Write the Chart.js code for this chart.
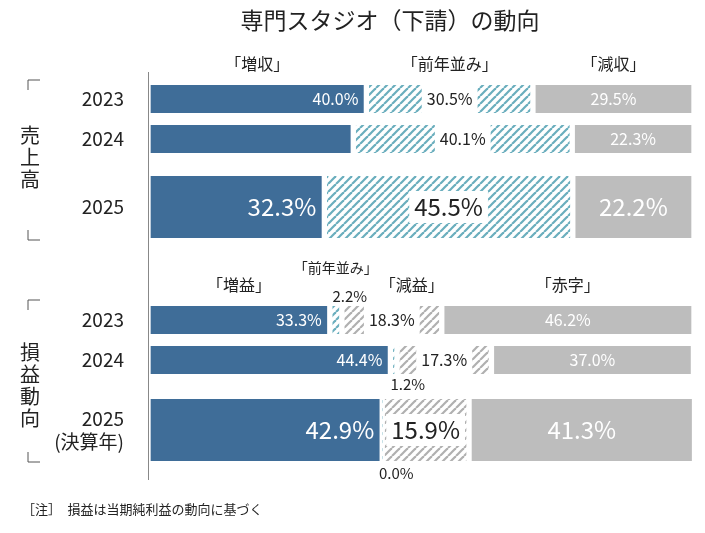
<!DOCTYPE html>
<html><head><meta charset="utf-8">
<script src="https://cdn.jsdelivr.net/npm/chart.js@4"></script>
<style>body{margin:0;background:#fff}#wrap{width:705px;height:533px}</style>
</head><body><div id="wrap"><canvas id="c"></canvas></div>
<script>
const rowLabels = ['2023', '2024', '2025', '2023', '2024', ['2025', '(決算年)']];
const rowPos = [0, 1, 2.7, 5.525, 6.525, 8.275];
const bigRows = [2, 5];

// 売上高 (rows 0-2)
const salesUp = [40.0, 37.6, 32.3];
const salesFlat = [30.5, 40.1, 45.5];
const salesDown = [29.5, 22.3, 22.2];
// 損益動向 (rows 3-5)
const profitUp = [33.3, 44.4, 42.9];
const profitFlat = [2.2, 1.2, 0.0];
const profitDown = [18.3, 17.3, 15.9];
const profitLoss = [46.2, 37.0, 41.3];

const FONT = '"Noto Sans CJK JP", "Noto Sans", sans-serif';
const BLUE = '#3f6d98', GREY = '#bdbdbd';

function hatch(color) {
    const c = document.createElement('canvas');
    c.width = 8; c.height = 8;
    const g = c.getContext('2d');
    g.fillStyle = '#fff'; g.fillRect(0, 0, 8, 8);
    g.strokeStyle = color; g.lineWidth = 2.2;
    for (let k = -8; k <= 16; k += 8) {
        g.beginPath(); g.moveTo(k, 8); g.lineTo(k + 8, 0); g.stroke();
    }
    return g.createPattern(c, 'repeat');
}
const TEAL_H = hatch('#6aaebd'), GREY_H = hatch('#b0b0b0');

const segments = [
    { name: '「増収」', vals: [...salesUp, null, null, null], fill: BLUE, txt: 'solid', hide: [1] },
    { name: '「前年並み」', vals: [...salesFlat, null, null, null], fill: TEAL_H, txt: 'box' },
    { name: '「減収」', vals: [...salesDown, null, null, null], fill: GREY, txt: 'solid' },
    { name: '「増益」', vals: [null, null, null, ...profitUp], fill: BLUE, txt: 'solid' },
    { name: '「前年並み」', vals: [null, null, null, ...profitFlat], fill: TEAL_H, txt: 'out', small: true },
    { name: '「減益」', vals: [null, null, null, ...profitDown], fill: GREY_H, txt: 'box', dx: 20 },
    { name: '「赤字」', vals: [null, null, null, ...profitLoss], fill: GREY, txt: 'solid' }
];

const starts = rowPos.map(() => 0);
segments.forEach(s => {
    s.ranges = s.vals.map((v, i) => {
        if (v === null) return null;
        const r = [starts[i], starts[i] + v];
        starts[i] += v;
        return r;
    });
});

const datasets = [];
segments.forEach((s, si) => {
    [false, true].forEach(big => {
        const data = [];
        s.ranges.forEach((r, i) => {
            if (r && bigRows.includes(i) === big) data.push({ y: rowPos[i], x: r, row: i });
        });
        if (!data.length) return;
        datasets.push({
            data, seg: si,
            backgroundColor: s.fill,
            borderColor: '#fff',
            borderWidth: { left: 3, right: 3, top: 0, bottom: 0 },
            borderSkipped: false,
            barThickness: big ? 62 : 28,
            grouped: false
        });
    });
});

const drawText = {
    id: 'drawText',
    afterDatasetsDraw(chart) {
        const { ctx, scales: { x, y } } = chart;
        ctx.save();
        ctx.textBaseline = 'middle';
        ctx.textAlign = 'center';
        ctx.fillStyle = '#222';
        ctx.font = '23px ' + FONT;
        ctx.fillText('専門スタジオ（下請）の動向', 390, 20);

        segments.forEach(s => {
            s.ranges.forEach((r, i) => {
                if (!r || (s.hide && s.hide.includes(i))) return;
                const big = bigRows.includes(i);
                const txt = s.vals[i].toFixed(1) + '%';
                const cy = y.getPixelForValue(rowPos[i]);
                const x0 = x.getPixelForValue(r[0]), x1 = x.getPixelForValue(r[1]);
                ctx.font = (big ? 24 : 16) + 'px ' + FONT;
                if (s.txt === 'solid') {
                    ctx.fillStyle = '#fff';
                    const cx = s.fill === BLUE ? x1 - ctx.measureText(txt).width / 2 - 8 : (x0 + x1) / 2;
                    ctx.fillText(txt, cx, cy);
                } else if (s.txt === 'box') {
                    const cx = (x0 + x1) / 2, w = ctx.measureText(txt).width + 10;
                    ctx.fillStyle = '#fff';
                    ctx.fillRect(cx - w / 2, cy - (big ? 16 : 14), w, big ? 32 : 28);
                    ctx.fillStyle = '#222';
                    ctx.fillText(txt, cx, cy);
                } else {
                    ctx.fillStyle = '#222';
                    ctx.font = '15px ' + FONT;
                    const cx = (x0 + x1) / 2 + 14;
                    const off = i === 3 ? -24 : (big ? 43 : 24);
                    ctx.fillText(txt, cx, cy + off);
                }
            });
        });

        segments.forEach(s => {
            const i = s.ranges.findIndex(r => r);
            const r = s.ranges[i];
            const cx = x.getPixelForValue((r[0] + r[1]) / 2) + (s.dx || 0);
            const cy = y.getPixelForValue(rowPos[i]) - (s.small ? 52 : 35);
            ctx.fillStyle = '#222';
            ctx.font = (s.small ? 14 : 16) + 'px ' + FONT;
            ctx.fillText(s.name, cx, cy);
        });

        const groups = [
            { t: '売上高', top: 80, bot: 240, ty: 135 },
            { t: '損益動向', top: 300, bot: 462, ty: 352 }
        ];
        ctx.strokeStyle = '#555'; ctx.lineWidth = 1;
        groups.forEach(g => {
            ctx.beginPath();
            ctx.moveTo(40, g.top); ctx.lineTo(28, g.top); ctx.lineTo(28, g.top + 10);
            ctx.moveTo(28, g.bot - 10); ctx.lineTo(28, g.bot); ctx.lineTo(40, g.bot);
            ctx.stroke();
            ctx.fillStyle = '#222';
            ctx.font = '20px ' + FONT;
            [...g.t].forEach((ch, k) => ctx.fillText(ch, 30, g.ty + k * 22));
        });

        ctx.strokeStyle = '#888';
        ctx.beginPath(); ctx.moveTo(148.5, 72); ctx.lineTo(148.5, 480); ctx.stroke();

        ctx.textAlign = 'left';
        ctx.font = '13px ' + FONT;
        ctx.fillStyle = '#222';
        ctx.fillText('［注］　損益は当期純利益の動向に基づく', 22, 509);
        ctx.restore();
    }
};

new Chart(document.getElementById('c'), {
    type: 'bar',
    data: { datasets },
    options: {
        indexAxis: 'y',
        responsive: true,
        maintainAspectRatio: false,
        animation: false,
        layout: { padding: { top: 60, bottom: 53, left: 0, right: 11 } },
        plugins: { legend: { display: false }, tooltip: { enabled: false } },
        scales: {
            x: { type: 'linear', min: 0, max: 100, display: false },
            y: {
                type: 'linear', reverse: true, min: -0.975, max: 9.525, offset: false,
                grid: { display: false }, border: { display: false },
                afterFit(s) { s.width = 148; },
                afterBuildTicks(s) { s.ticks = rowPos.map(v => ({ value: v })); },
                ticks: {
                    autoSkip: false, padding: 16, color: '#222',
                    font: { family: FONT, size: 19 },
                    callback: (v, i) => rowLabels[i]
                }
            }
        }
    },
    plugins: [drawText]
});
</script></body></html>
